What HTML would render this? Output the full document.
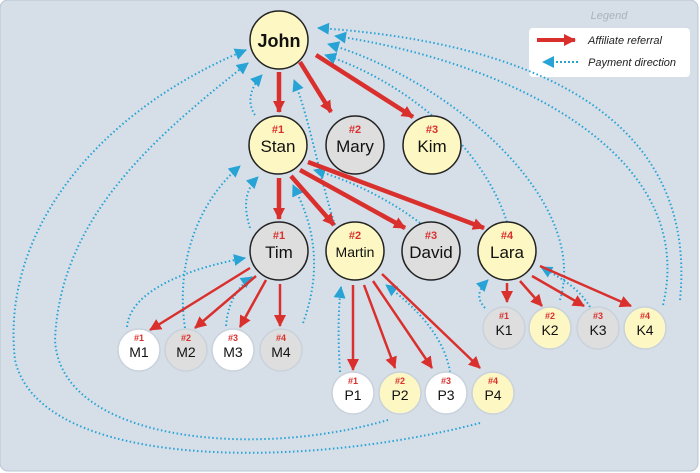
<!DOCTYPE html>
<html><head><meta charset="utf-8"><style>
html,body{margin:0;padding:0;background:#fff;}
svg{display:block;font-family:"Liberation Sans",sans-serif;}
</style></head><body>
<svg width="700" height="473" viewBox="0 0 700 473" xmlns="http://www.w3.org/2000/svg">
<defs>
<marker id="r" markerWidth="6" markerHeight="6" refX="5" refY="3" orient="auto" markerUnits="userSpaceOnUse" viewBox="0 0 6 6"><path d="M0,0 L6,3 L0,6 z" fill="#d9302e"/></marker>
<marker id="rs" markerWidth="12" markerHeight="12" refX="11" refY="6" orient="auto" markerUnits="userSpaceOnUse" viewBox="0 0 12 12"><path d="M0,0 L12,6 L0,12 z" fill="#d9302e"/></marker>
<marker id="b" markerWidth="12" markerHeight="12" refX="11" refY="6" orient="auto" markerUnits="userSpaceOnUse" viewBox="0 0 12 12"><path d="M0,0 L12,6 L0,12 z" fill="#27a3d6"/></marker>
</defs>
<rect x="0" y="0" width="700" height="473" fill="#fff"/>
<rect x="0" y="0" width="698" height="471" rx="8" fill="#d6dfe8" stroke="#b9c5d2"/>
<text x="609" y="19" font-size="11" font-style="italic" fill="#a9b2bc" text-anchor="middle">Legend</text>
<rect x="529" y="28" width="161" height="49" rx="4" fill="#fff"/>
<line x1="537" y1="40" x2="575" y2="40" stroke="#d9302e" stroke-width="4" marker-end="url(#rs)"/>
<text x="588" y="44" font-size="11" font-style="italic" fill="#222">Affiliate referral</text>
<line x1="578" y1="62" x2="543" y2="62" stroke="#27a3d6" stroke-width="2" stroke-dasharray="2,2" marker-end="url(#b)"/>
<text x="588" y="66" font-size="11" font-style="italic" fill="#222">Payment direction</text>

<g fill="none" stroke="#27a3d6" stroke-width="2" stroke-dasharray="1.5,2.5">
<path d="M480,423 C300,470 40,470 15,360 C0,230 100,110 246,50" marker-end="url(#b)"/>
<path d="M388,420 C250,460 60,440 55,340 C60,220 150,140 248,63" marker-end="url(#b)"/>
<path d="M255,115 C248,105 248,90 262,75" marker-end="url(#b)"/>
<path d="M335,225 C320,180 310,120 294,80" marker-end="url(#b)"/>
<path d="M507,222 C480,140 400,80 325,55" marker-end="url(#b)"/>
<path d="M560,300 C590,200 450,80 328,44" marker-end="url(#b)"/>
<path d="M663,305 C700,150 500,60 335,36" marker-end="url(#b)"/>
<path d="M680,300 C700,100 500,40 318,28" marker-end="url(#b)"/>
<path d="M250,228 C243,205 245,190 258,177" marker-end="url(#b)"/>
<path d="M185,328 C175,260 200,200 240,166" marker-end="url(#b)"/>
<path d="M303,323 C330,250 300,200 293,185" marker-end="url(#b)"/>
<path d="M420,223 C390,200 350,180 314,170" marker-end="url(#b)"/>
<path d="M127,327 C130,290 190,268 245,258" marker-end="url(#b)"/>
<path d="M226,326 C228,300 240,285 252,277" marker-end="url(#b)"/>
<path d="M340,372 C338,340 338,310 341,287" marker-end="url(#b)"/>
<path d="M450,372 C445,340 420,310 386,285" marker-end="url(#b)"/>
<path d="M485,308 C476,298 478,290 488,280" marker-end="url(#b)"/>
<path d="M590,307 C580,290 565,280 541,267" marker-end="url(#b)"/>
</g>

<g stroke="#d9302e" fill="none">
<g stroke-width="4.5">
<line x1="279" y1="72" x2="279" y2="112" marker-end="url(#rs)"/>
<line x1="300" y1="62" x2="331" y2="112" marker-end="url(#rs)"/>
<line x1="316" y1="55" x2="413" y2="117" marker-end="url(#rs)"/>
<line x1="279" y1="178" x2="279" y2="219" marker-end="url(#rs)"/>
<line x1="291" y1="176" x2="334" y2="225" marker-end="url(#rs)"/>
<line x1="300" y1="170" x2="405" y2="228" marker-end="url(#rs)"/>
<line x1="308" y1="162" x2="484" y2="228" marker-end="url(#rs)"/>
</g>
<g stroke-width="2.5">
<line x1="250" y1="268" x2="150" y2="330" marker-end="url(#rs)"/>
<line x1="256" y1="276" x2="195" y2="328" marker-end="url(#rs)"/>
<line x1="266" y1="280" x2="240" y2="327" marker-end="url(#rs)"/>
<line x1="280" y1="284" x2="280" y2="326" marker-end="url(#rs)"/>
<line x1="353" y1="285" x2="353" y2="370" marker-end="url(#rs)"/>
<line x1="364" y1="285" x2="395" y2="368" marker-end="url(#rs)"/>
<line x1="373" y1="281" x2="432" y2="368" marker-end="url(#rs)"/>
<line x1="382" y1="274" x2="480" y2="368" marker-end="url(#rs)"/>
<line x1="507" y1="283" x2="507" y2="302" marker-end="url(#rs)"/>
<line x1="520" y1="281" x2="542" y2="306" marker-end="url(#rs)"/>
<line x1="532" y1="276" x2="584" y2="306" marker-end="url(#rs)"/>
<line x1="540" y1="266" x2="631" y2="306" marker-end="url(#rs)"/>
</g>
</g>

<g stroke="#222" stroke-width="1.5">
<circle cx="279" cy="40" r="29" fill="#fdf8c3"/>
<circle cx="278" cy="145" r="29" fill="#fdf8c3"/>
<circle cx="355" cy="145" r="29" fill="#dedede"/>
<circle cx="432" cy="145" r="29" fill="#fdf8c3"/>
<circle cx="279" cy="251" r="29" fill="#dedede"/>
<circle cx="355" cy="251" r="29" fill="#fdf8c3"/>
<circle cx="431" cy="251" r="29" fill="#dedede"/>
<circle cx="507" cy="251" r="29" fill="#fdf8c3"/>
</g>
<g stroke="#c9d2dc" stroke-width="1.5">
<circle cx="139" cy="350" r="21" fill="#fff"/>
<circle cx="186" cy="350" r="21" fill="#dedede"/>
<circle cx="233" cy="350" r="21" fill="#fff"/>
<circle cx="281" cy="350" r="21" fill="#dedede"/>
<circle cx="353" cy="393" r="21" fill="#fff"/>
<circle cx="400" cy="393" r="21" fill="#fdf8c3"/>
<circle cx="446" cy="393" r="21" fill="#fff"/>
<circle cx="493" cy="393" r="21" fill="#fdf8c3"/>
<circle cx="504" cy="328" r="21" fill="#dedede"/>
<circle cx="550" cy="328" r="21" fill="#fdf8c3"/>
<circle cx="598" cy="328" r="21" fill="#dedede"/>
<circle cx="645" cy="328" r="21" fill="#fdf8c3"/>
</g>

<g text-anchor="middle" fill="#111">
<text x="279" y="47" font-size="18" font-weight="bold">John</text>
<g font-size="17">
<text x="278" y="152">Stan</text><text x="355" y="152">Mary</text><text x="432" y="152">Kim</text>
<text x="279" y="258">Tim</text><text x="431" y="258">David</text><text x="507" y="258">Lara</text>
</g>
<text x="355" y="257" font-size="14">Martin</text>
<g font-size="14">
<text x="139" y="357">M1</text><text x="186" y="357">M2</text><text x="233" y="357">M3</text><text x="281" y="357">M4</text>
<text x="353" y="400">P1</text><text x="400" y="400">P2</text><text x="446" y="400">P3</text><text x="493" y="400">P4</text>
<text x="504" y="335">K1</text><text x="550" y="335">K2</text><text x="598" y="335">K3</text><text x="645" y="335">K4</text>
</g>
<g fill="#d9302e" font-weight="bold" font-size="11">
<text x="278" y="133">#1</text><text x="355" y="133">#2</text><text x="432" y="133">#3</text>
<text x="279" y="239">#1</text><text x="355" y="239">#2</text><text x="431" y="239">#3</text><text x="507" y="239">#4</text>
</g>
<g fill="#d9302e" font-weight="bold" font-size="9">
<text x="139" y="341">#1</text><text x="186" y="341">#2</text><text x="233" y="341">#3</text><text x="281" y="341">#4</text>
<text x="353" y="384">#1</text><text x="400" y="384">#2</text><text x="446" y="384">#3</text><text x="493" y="384">#4</text>
<text x="504" y="319">#1</text><text x="550" y="319">#2</text><text x="598" y="319">#3</text><text x="645" y="319">#4</text>
</g>
</g>
</svg>
</body></html>
